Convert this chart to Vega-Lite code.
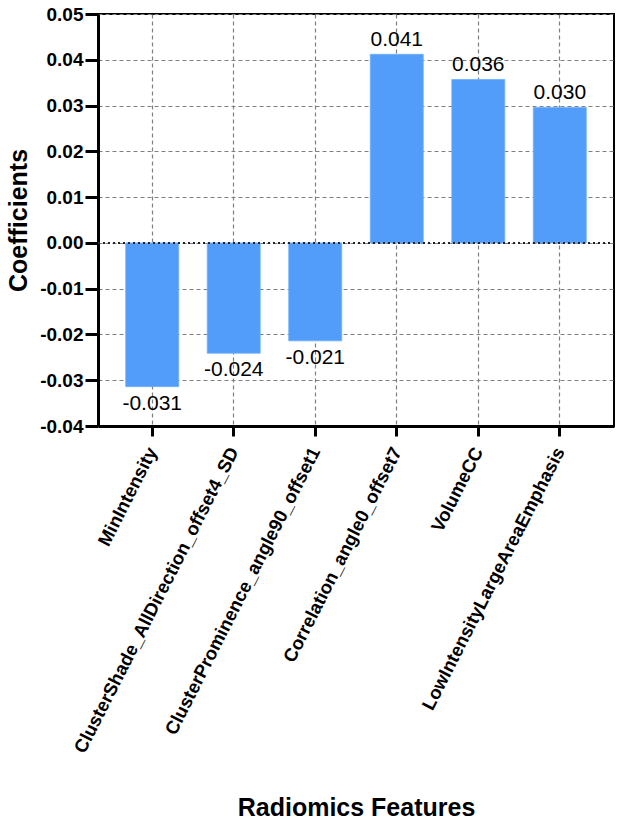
{
  "$schema": "https://vega.github.io/schema/vega-lite/v6.json",
  "width": 516,
  "height": 412,
  "autosize": {"type": "none"},
  "padding": {"left": 98, "top": 14, "right": 10, "bottom": 397},
  "background": "white",
  "config": {
    "font": "Liberation Sans",
    "locale": {
      "number": {"decimal": ".", "thousands": ",", "grouping": [3], "currency": ["$", ""], "minus": "-"}
    },
    "view": {"stroke": "black", "strokeWidth": 2},
    "axis": {
      "domainColor": "black",
      "domainWidth": 3,
      "tickColor": "black",
      "tickWidth": 3,
      "tickSize": 10,
      "labelColor": "black",
      "labelFontWeight": "bold",
      "titleColor": "black",
      "titleFontWeight": "bold",
      "titleFontSize": 25,
      "gridColor": "#808080",
      "gridDash": [4, 3],
      "gridWidth": 1.2,
      "gridOpacity": 1
    }
  },
  "data": {
    "values": [
      {"feature": "MinIntensity", "coef": -0.0314},
      {"feature": "ClusterShade_AllDirection_offset4_SD", "coef": -0.0241},
      {"feature": "ClusterProminence_angle90_offset1", "coef": -0.0214},
      {"feature": "Correlation_angle0_offset7", "coef": 0.0412},
      {"feature": "VolumeCC", "coef": 0.0357},
      {"feature": "LowIntensityLargeAreaEmphasis", "coef": 0.0296}
    ]
  },
  "encoding": {
    "x": {
      "field": "feature",
      "type": "nominal",
      "sort": null,
      "scale": {"paddingInner": 0.35, "paddingOuter": 0.34},
      "axis": {
        "title": "Radiomics Features",
        "titleY": 389,
        "titleBaseline": "alphabetic",
        "labelAngle": -63,
        "labelAlign": "right",
        "labelBaseline": "middle",
        "labelFontSize": 18.5,
        "labelPadding": 12,
        "labelLimit": 500,
        "bandPosition": 0.5,
        "grid": true
      }
    },
    "y": {
      "field": "coef",
      "type": "quantitative",
      "scale": {"domain": [-0.04, 0.05], "nice": false, "zero": false},
      "axis": {
        "title": "Coefficients",
        "titleX": -80,
        "titleBaseline": "middle",
        "titleAngle": -90,
        "values": [-0.04, -0.03, -0.02, -0.01, 0, 0.01, 0.02, 0.03, 0.04, 0.05],
        "format": ".2f",
        "labelFontSize": 19,
        "labelPadding": 2,
        "tickSize": 13,
        "grid": true
      }
    }
  },
  "layer": [
    {
      "mark": {"type": "bar", "color": "#519DF9", "stroke": "#6fb0fb", "strokeWidth": 0.8}
    },
    {
      "transform": [{"filter": "datum.coef >= 0"}],
      "mark": {"type": "text", "baseline": "alphabetic", "dy": -8, "fontSize": 21, "color": "black"},
      "encoding": {"text": {"field": "coef", "type": "quantitative", "format": ".3f"}}
    },
    {
      "transform": [{"filter": "datum.coef < 0"}],
      "mark": {"type": "text", "baseline": "top", "dy": 6, "fontSize": 21, "color": "black"},
      "encoding": {"text": {"field": "coef", "type": "quantitative", "format": ".3f"}}
    },
    {
      "mark": {"type": "rule", "color": "#222222", "strokeWidth": 1.6, "strokeDash": [2, 3]},
      "encoding": {"y": {"datum": 0}, "x": {"value": 0}, "x2": {"value": 516}}
    }
  ]
}
